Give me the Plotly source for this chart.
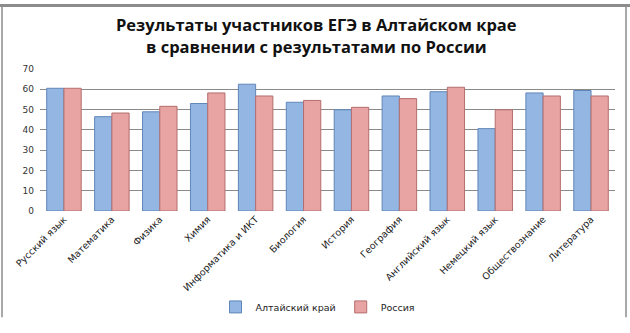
import plotly.graph_objects as go

subjects = ["Русский язык", "Математика", "Физика", "Химия", "Информатика и ИКТ",
            "Биология", "История", "География", "Английский язык", "Немецкий язык",
            "Обществознание", "Литература"]
altai = [60.5, 46.5, 48.9, 53.0, 62.5, 53.6, 49.9, 56.7, 58.8, 40.6, 58.2, 59.4]
russia = [60.5, 48.3, 51.6, 58.2, 56.7, 54.5, 51.1, 55.4, 61.0, 49.9, 56.7, 56.7]

title_lines = ["Результаты участников ЕГЭ в Алтайском крае",
               "в сравнении с результатами по России"]

W, H = 630, 333
ML, MR, MT, MB = 40, 15, 69, 113
pw, ph = W - ML - MR, H - MT - MB

def px(x):
    return (x - ML) / pw

def py(y):
    return (H - MB - y) / ph

fig = go.Figure()
fig.add_bar(name="Алтайский край", x=subjects, y=altai,
            marker=dict(color="#94B6E2", line=dict(color="#5F86B8", width=1)))
fig.add_bar(name="Россия", x=subjects, y=russia,
            marker=dict(color="#E8A3A3", line=dict(color="#B56E6E", width=1)))

# outer frame
fig.add_shape(type="line", xref="paper", yref="paper",
              x0=px(0), x1=px(630), y0=py(1.5), y1=py(1.5),
              line=dict(color="#8C8C8C", width=3))
for xx in (2, 626):
    fig.add_shape(type="line", xref="paper", yref="paper",
                  x0=px(xx), x1=px(xx), y0=py(3), y1=py(333),
                  line=dict(color="#8C8C8C", width=1.5))

# two-line bold heading
for line, ycen in zip(title_lines, (22, 45)):
    fig.add_annotation(text="<b>" + line + "</b>", xref="paper", yref="paper",
                       x=px(316), y=py(ycen), xanchor="center", yanchor="middle",
                       showarrow=False,
                       font=dict(family="Open Sans", size=16.5, color="#111111"))

fig.update_layout(
    width=W, height=H,
    margin=dict(l=ML, r=MR, t=MT, b=MB),
    paper_bgcolor="white", plot_bgcolor="white",
    barmode="group", bargap=0.28, bargroupgap=0.0,
    font=dict(family="DejaVu Sans", size=9, color="#222222"),
    legend=dict(orientation="h", x=px(318), xanchor="center", y=py(322), yanchor="middle",
                font=dict(family="DejaVu Sans", size=9.5, color="#222222"),
                itemwidth=30, tracegroupgap=0, traceorder="normal"),
    showlegend=True,
)
fig.update_yaxes(range=[0, 70], dtick=10, showgrid=True, gridcolor="#8A8A8A", gridwidth=1,
                 zeroline=False, showline=False, ticks="", tickfont=dict(size=9, color="#333333"),
                 ticklabelstandoff=5)
fig.update_xaxes(tickangle=-45, showline=False, ticks="", tickfont=dict(size=9.5),
                 showgrid=False)

fig.write_html("out.html")
